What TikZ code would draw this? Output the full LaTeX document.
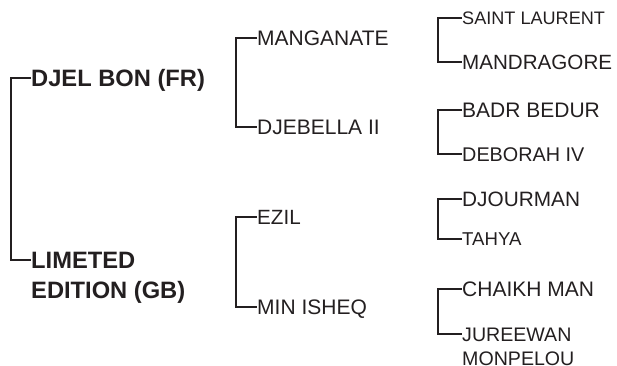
\documentclass[tikz,border=0pt]{standalone}
\usepackage{fontspec}
\setmainfont{Liberation Sans}
\definecolor{ink}{HTML}{231F20}
\begin{document}
\begin{tikzpicture}[x=1pt,y=-1pt,
  fs/.code={%
    \pgfmathsetmacro\capht{0.716*#1}%
    \edef\tmpa{\noexpand\tikzset{text height=\capht pt}}\tmpa
    \tikzset{font=\fontsize{#1pt}{#1pt}\selectfont}},
  lab/.style={anchor=west, inner sep=0pt, text depth=0pt, text=ink},
  multi/.style={anchor=base west, inner sep=0pt, text=ink, align=left},
  bracket/.style={draw=ink, line width=2.4pt}
]
\useasboundingbox (0,0) rectangle (617,365);

% level 1
\node[lab, fs=23.7, font=\bfseries\fontsize{23.7pt}{30pt}\selectfont] (djel) at (31,78) {DJEL BON (FR)};
\node[multi, font=\bfseries\fontsize{23.7pt}{30pt}\selectfont] (lim) at (31,298.5) {LIMETED\\EDITION (GB)};
\coordinate (limc) at ([yshift=38.5pt]lim.base west);

% level 2
\node[lab, fs=21] (mang) at (257,38) {MANGANATE};
\node[lab, fs=21] (djeb) at (257,127) {DJEBELLA II};
\node[lab, fs=20.6] (ezil) at (257,217) {EZIL};
\node[lab, fs=21] (minis) at (257,307) {MIN ISHEQ};

% level 3
\node[lab, fs=18.1] (saint) at (462,18) {SAINT LAURENT};
\node[lab, fs=20.6] (mandr) at (462,62) {MANDRAGORE};
\node[lab, fs=21] (badr) at (462,110) {BADR BEDUR};
\node[lab, fs=19.8] (debo) at (462,154) {DEBORAH IV};
\node[lab, fs=20.8] (djour) at (462,199) {DJOURMAN};
\node[lab, fs=18.6] (tahya) at (462,239) {TAHYA};
\node[lab, fs=21] (chaikh) at (462,289) {CHAIKH MAN};
\node[multi, font=\fontsize{19.6pt}{24.5pt}\selectfont] (jure) at (462,365.5) {JUREEWAN\\MONPELOU};
\coordinate (jurec) at ([yshift=31.5pt]jure.base west);

% brackets
\draw[bracket] (djel.west) -- ++(-20,0) |- (limc);
\draw[bracket] (mang.west) -- ++(-21,0) |- (djeb.west);
\draw[bracket] (ezil.west) -- ++(-21,0) |- (minis.west);
\draw[bracket] (saint.west) -- ++(-24,0) |- (mandr.west);
\draw[bracket] (badr.west) -- ++(-24,0) |- (debo.west);
\draw[bracket] (djour.west) -- ++(-24,0) |- (tahya.west);
\draw[bracket] (chaikh.west) -- ++(-24,0) |- (jurec);
\end{tikzpicture}
\end{document}
